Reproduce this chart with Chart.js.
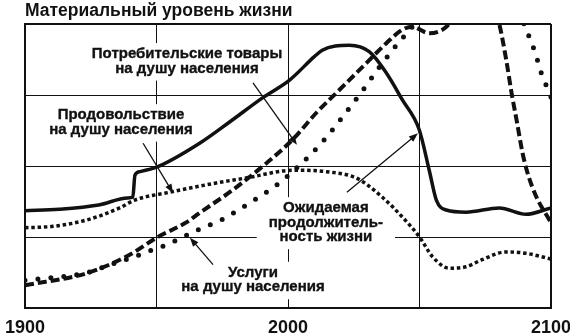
<!DOCTYPE html>
<html><head><meta charset="utf-8">
<script src="https://cdn.jsdelivr.net/npm/chart.js@4.4.0/dist/chart.umd.min.js"></script>
<style>html,body{margin:0;padding:0;background:#fff;}canvas{display:block;}</style>
</head><body>
<canvas id="c" width="570" height="334"></canvas>
<script>
// ---- data (year, value) ----
const titleText = 'Материальный уровень жизни';
const xTickLabels = [1900, 2000, 2100];

const lifeYears  = [1900, 1913, 1928, 1939, 1941, 1941.8, 1943.6, 1950.5, 1966.4, 1977.8, 1990.3, 2000.6, 2010, 2013, 2018, 2023.3, 2030.9, 2037.4, 2043.5, 2049.9, 2053.7, 2056.4, 2060.2, 2067.7, 2080.3, 2090.5, 2100];
const lifeValues = [1.37, 1.39, 1.45, 1.55, 1.56, 1.87, 1.92, 1.99, 2.32, 2.62, 2.96, 3.21, 3.54, 3.63, 3.69, 3.70, 3.61, 3.31, 2.93, 2.51, 1.94, 1.52, 1.38, 1.35, 1.41, 1.32, 1.41];

const foodYears  = [1900, 1910.6, 1923.5, 1936, 1941.7, 1955, 1974, 1985.4, 1997.9, 2004.4, 2014.6, 2026, 2035.9, 2043.5, 2050, 2055, 2061.3, 2067.7, 2073.8, 2082.9, 2090.5, 2100];
const foodValues = [1.13, 1.15, 1.24, 1.41, 1.52, 1.63, 1.77, 1.84, 1.93, 1.94, 1.92, 1.83, 1.56, 1.28, 1.00, 0.72, 0.56, 0.58, 0.68, 0.79, 0.77, 0.69];

const goodsYears  = [1900, 1923.5, 1939.8, 1950.5, 1961.5, 1966.4, 1978.9, 1991.8, 2001.7, 2010.8, 2019.5, 2029.8, 2037.4, 2043.5, 2047.3, 2053.7, 2060.2, 2063, 2070, 2077, 2080.4, 2083, 2085, 2086.9, 2089.2, 2091.1, 2094.5, 2099.4, 2100];
const goodsValues = [0.32, 0.49, 0.75, 1.00, 1.21, 1.34, 1.66, 2.04, 2.37, 2.75, 3.07, 3.45, 3.73, 3.92, 3.96, 3.87, 3.96, 4.1, 4.5, 4.4, 3.99, 3.49, 3.03, 2.65, 2.18, 1.90, 1.56, 1.24, 1.20];

const servYears  = [1900, 1925, 1931.5, 1937.5, 1942.9, 1947.8, 1953.9, 1964.5, 1975.1, 1985.4, 1995.6, 2004.4, 2013.1, 2020.7, 2027.9, 2034.7, 2042.3, 2048, 2055, 2070, 2085, 2089.8, 2092.4, 2094.3, 2096.2, 2098.1, 2100];
const servValues = [0.39, 0.51, 0.60, 0.67, 0.74, 0.81, 0.89, 1.08, 1.25, 1.48, 1.73, 2.01, 2.34, 2.69, 3.04, 3.39, 3.75, 4.0, 4.5, 5.0, 4.6, 3.99, 3.76, 3.56, 3.32, 3.14, 2.97];

// ---- annotation texts (anchored in data units: year, value of first baseline) ----
const labelLines  = [['Потребительские товары', 'на душу населения'], ['Продовольствие', 'на душу населения'], ['Ожидаемая', 'продолжитель-', 'ность жизни'], ['Услуги', 'на душу населения']];
const labelYears  = [1961.6, 1936.5, 2014.4, 1986.7];
const labelValues = [3.52, 2.66, 1.35, 0.44];
const labelPadX   = [4, 4, 12, 4];
const arrowFrom = [[1986.7, 3.17], [1944.9, 2.32], [2022.4, 1.63], [1971.5, 0.61]];
const arrowTo   = [[2003.4, 2.30], [1956.3, 1.62], [2049.4, 2.46], [1962.7, 0.99]];

const pts = (xs, ys) => xs.map((x, i) => ({x, y: ys[i]}));
const INK = '#111';

const annot = {
  id: 'annot',
  beforeDatasetsDraw(chart) {
    const {ctx, scales: {x, y}} = chart;
    ctx.save();
    ctx.font = 'bold 15px "Liberation Sans", Arial, sans-serif';
    ctx.textAlign = 'center';
    ctx.textBaseline = 'alphabetic';
    const LH = 14.5;
    labelLines.forEach((lines, i) => {
      const cx = x.getPixelForValue(labelYears[i]);
      const by = y.getPixelForValue(labelValues[i]);
      const w = Math.max(...lines.map(l => ctx.measureText(l).width));
      const top = by - 11 - 4, bottom = by + (lines.length - 1) * LH + 4 + 4;
      ctx.fillStyle = '#fff';
      ctx.fillRect(cx - w / 2 - labelPadX[i], top, w + 2 * labelPadX[i], bottom - top);
      ctx.fillStyle = INK;
      ctx.strokeStyle = INK; ctx.lineWidth = 0.35;
      lines.forEach((l, j) => { ctx.fillText(l, cx, by + j * LH); ctx.strokeText(l, cx, by + j * LH); });
    });
    ctx.restore();
  },
  afterDatasetsDraw(chart) {
    const {ctx, scales: {x, y}} = chart;
    ctx.save();
    ctx.strokeStyle = INK; ctx.fillStyle = INK; ctx.lineWidth = 1.3;
    arrowFrom.forEach((f, i) => {
      const x0 = x.getPixelForValue(f[0]), y0 = y.getPixelForValue(f[1]);
      const x1 = x.getPixelForValue(arrowTo[i][0]), y1 = y.getPixelForValue(arrowTo[i][1]);
      const a = Math.atan2(y1 - y0, x1 - x0), L = 9, H = 3.5;
      ctx.beginPath(); ctx.moveTo(x0, y0);
      ctx.lineTo(x1 - Math.cos(a) * L * 0.8, y1 - Math.sin(a) * L * 0.8); ctx.stroke();
      ctx.beginPath();
      ctx.moveTo(x1, y1);
      ctx.lineTo(x1 - Math.cos(a) * L - Math.sin(a) * H, y1 - Math.sin(a) * L + Math.cos(a) * H);
      ctx.lineTo(x1 - Math.cos(a) * L + Math.sin(a) * H, y1 - Math.sin(a) * L - Math.cos(a) * H);
      ctx.closePath(); ctx.fill();
    });
    ctx.restore();
  }
};

new Chart(document.getElementById('c'), {
  type: 'line',
  data: {
    datasets: [
      {label: 'Ожидаемая продолжительность жизни', data: pts(lifeYears, lifeValues), borderColor: INK, borderWidth: 3.5, clip: 0},
      {label: 'Продовольствие на душу населения', data: pts(foodYears, foodValues), borderColor: INK, borderWidth: 3.5, borderDash: [3.5, 2.8], clip: 0},
      {label: 'Потребительские товары на душу населения', data: pts(goodsYears, goodsValues), borderColor: INK, borderWidth: 4, borderDash: [9, 4], clip: 0},
      {label: 'Услуги на душу населения', data: pts(servYears, servValues), borderColor: INK, borderWidth: 5, borderDash: [0, 13], borderCapStyle: 'round', clip: 0}
    ]
  },
  options: {
    responsive: false,
    animation: false,
    devicePixelRatio: 1,
    layout: {padding: {left: 25, right: 0, top: 0, bottom: 0}},
    elements: {point: {radius: 0}, line: {cubicInterpolationMode: 'monotone', fill: false}},
    plugins: {
      legend: {display: false},
      tooltip: {enabled: false},
      title: {display: true, text: titleText, align: 'start', color: INK,
        font: {family: '"Liberation Sans", Arial, sans-serif', weight: 'bold', size: 17.5, lineHeight: 1.2},
        padding: {top: 1, bottom: 2}}
    },
    scales: {
      x: {
        type: 'linear', min: 1900, max: 2100,
        afterFit: s => { s.height = 26; s.paddingLeft = 0; s.paddingRight = 19; },
        ticks: {stepSize: 50, autoSkip: false, maxRotation: 0, padding: 11, color: INK,
          font: {family: '"Liberation Sans", Arial, sans-serif', weight: 'bold', size: 18, lineHeight: 1},
          callback: v => xTickLabels.includes(v) ? String(v) : ''},
        grid: {color: INK, drawTicks: false, lineWidth: c => (c.tick && (c.tick.value === 1900 || c.tick.value === 2100)) ? 2 : 1},
        border: {color: INK, width: 2}
      },
      y: {
        min: 0, max: 4,
        afterFit: s => { s.width = 0; },
        ticks: {display: false, stepSize: 1},
        grid: {color: INK, drawTicks: false, lineWidth: c => (c.tick && (c.tick.value === 0 || c.tick.value === 4)) ? 2 : 1},
        border: {color: INK, width: 2}
      }
    }
  },
  plugins: [annot]
});
</script>
</body></html>
